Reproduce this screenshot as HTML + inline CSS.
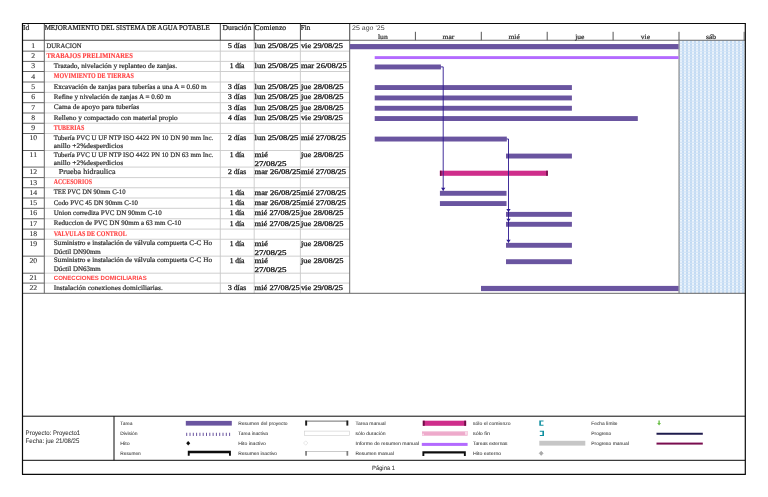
<!DOCTYPE html>
<html lang="es"><head><meta charset="utf-8"><title>Proyecto1</title>
<style>html,body{margin:0;padding:0;background:#fff;overflow:hidden}svg{display:block}text{text-rendering:geometricPrecision}</style>
</head><body>
<svg width="768" height="497" viewBox="0 0 768 497">
<defs><pattern id="wk" width="4" height="2.75" patternUnits="userSpaceOnUse"><rect width="4" height="2.75" fill="#bfd8f2"/><rect x="0" width="2" height="2.75" fill="#d2e4f7"/><ellipse cx="1" cy="0.7" rx="0.8" ry="0.85" fill="#fbfdff"/><ellipse cx="3" cy="2.07" rx="0.6" ry="0.7" fill="#e4effb"/></pattern><filter id="bl" x="0" y="0" width="100%" height="100%" filterUnits="userSpaceOnUse"><feGaussianBlur stdDeviation="0.28"/></filter></defs>
<rect width="768" height="497" fill="#fff"/>
<rect x="679.00" y="40.25" width="65.90" height="253.05" fill="url(#wk)"/>
<line x1="44.30" y1="51.15" x2="349.70" y2="51.15" stroke="#c9c9c9" stroke-width="0.9"/>
<line x1="22.50" y1="51.15" x2="44.30" y2="51.15" stroke="#555" stroke-width="0.9"/>
<line x1="44.30" y1="61.40" x2="349.70" y2="61.40" stroke="#c9c9c9" stroke-width="0.9"/>
<line x1="22.50" y1="61.40" x2="44.30" y2="61.40" stroke="#555" stroke-width="0.9"/>
<line x1="44.30" y1="71.50" x2="349.70" y2="71.50" stroke="#c9c9c9" stroke-width="0.9"/>
<line x1="22.50" y1="71.50" x2="44.30" y2="71.50" stroke="#555" stroke-width="0.9"/>
<line x1="44.30" y1="82.00" x2="349.70" y2="82.00" stroke="#c9c9c9" stroke-width="0.9"/>
<line x1="22.50" y1="82.00" x2="44.30" y2="82.00" stroke="#555" stroke-width="0.9"/>
<line x1="44.30" y1="92.40" x2="349.70" y2="92.40" stroke="#c9c9c9" stroke-width="0.9"/>
<line x1="22.50" y1="92.40" x2="44.30" y2="92.40" stroke="#555" stroke-width="0.9"/>
<line x1="44.30" y1="102.70" x2="349.70" y2="102.70" stroke="#c9c9c9" stroke-width="0.9"/>
<line x1="22.50" y1="102.70" x2="44.30" y2="102.70" stroke="#555" stroke-width="0.9"/>
<line x1="44.30" y1="113.00" x2="349.70" y2="113.00" stroke="#c9c9c9" stroke-width="0.9"/>
<line x1="22.50" y1="113.00" x2="44.30" y2="113.00" stroke="#555" stroke-width="0.9"/>
<line x1="44.30" y1="123.25" x2="349.70" y2="123.25" stroke="#c9c9c9" stroke-width="0.9"/>
<line x1="22.50" y1="123.25" x2="44.30" y2="123.25" stroke="#555" stroke-width="0.9"/>
<line x1="44.30" y1="133.50" x2="349.70" y2="133.50" stroke="#c9c9c9" stroke-width="0.9"/>
<line x1="22.50" y1="133.50" x2="44.30" y2="133.50" stroke="#555" stroke-width="0.9"/>
<line x1="44.30" y1="150.50" x2="349.70" y2="150.50" stroke="#c9c9c9" stroke-width="0.9"/>
<line x1="22.50" y1="150.50" x2="44.30" y2="150.50" stroke="#555" stroke-width="0.9"/>
<line x1="44.30" y1="167.10" x2="349.70" y2="167.10" stroke="#c9c9c9" stroke-width="0.9"/>
<line x1="22.50" y1="167.10" x2="44.30" y2="167.10" stroke="#555" stroke-width="0.9"/>
<line x1="44.30" y1="177.60" x2="349.70" y2="177.60" stroke="#c9c9c9" stroke-width="0.9"/>
<line x1="22.50" y1="177.60" x2="44.30" y2="177.60" stroke="#555" stroke-width="0.9"/>
<line x1="44.30" y1="187.75" x2="349.70" y2="187.75" stroke="#c9c9c9" stroke-width="0.9"/>
<line x1="22.50" y1="187.75" x2="44.30" y2="187.75" stroke="#555" stroke-width="0.9"/>
<line x1="44.30" y1="198.00" x2="349.70" y2="198.00" stroke="#c9c9c9" stroke-width="0.9"/>
<line x1="22.50" y1="198.00" x2="44.30" y2="198.00" stroke="#555" stroke-width="0.9"/>
<line x1="44.30" y1="208.30" x2="349.70" y2="208.30" stroke="#c9c9c9" stroke-width="0.9"/>
<line x1="22.50" y1="208.30" x2="44.30" y2="208.30" stroke="#555" stroke-width="0.9"/>
<line x1="44.30" y1="218.75" x2="349.70" y2="218.75" stroke="#c9c9c9" stroke-width="0.9"/>
<line x1="22.50" y1="218.75" x2="44.30" y2="218.75" stroke="#555" stroke-width="0.9"/>
<line x1="44.30" y1="229.10" x2="349.70" y2="229.10" stroke="#c9c9c9" stroke-width="0.9"/>
<line x1="22.50" y1="229.10" x2="44.30" y2="229.10" stroke="#555" stroke-width="0.9"/>
<line x1="44.30" y1="239.25" x2="349.70" y2="239.25" stroke="#c9c9c9" stroke-width="0.9"/>
<line x1="22.50" y1="239.25" x2="44.30" y2="239.25" stroke="#555" stroke-width="0.9"/>
<line x1="44.30" y1="256.15" x2="349.70" y2="256.15" stroke="#c9c9c9" stroke-width="0.9"/>
<line x1="22.50" y1="256.15" x2="44.30" y2="256.15" stroke="#555" stroke-width="0.9"/>
<line x1="44.30" y1="273.20" x2="349.70" y2="273.20" stroke="#c9c9c9" stroke-width="0.9"/>
<line x1="22.50" y1="273.20" x2="44.30" y2="273.20" stroke="#555" stroke-width="0.9"/>
<line x1="44.30" y1="283.10" x2="349.70" y2="283.10" stroke="#c9c9c9" stroke-width="0.9"/>
<line x1="22.50" y1="283.10" x2="44.30" y2="283.10" stroke="#555" stroke-width="0.9"/>
<line x1="220.30" y1="40.25" x2="220.30" y2="293.30" stroke="#c9c9c9" stroke-width="0.9"/>
<line x1="254.20" y1="40.25" x2="254.20" y2="293.30" stroke="#c9c9c9" stroke-width="0.9"/>
<line x1="300.40" y1="40.25" x2="300.40" y2="293.30" stroke="#c9c9c9" stroke-width="0.9"/>
<line x1="44.30" y1="23.50" x2="44.30" y2="40.25" stroke="#4a4a4a" stroke-width="1"/>
<line x1="220.30" y1="23.50" x2="220.30" y2="40.25" stroke="#4a4a4a" stroke-width="1"/>
<line x1="254.20" y1="23.50" x2="254.20" y2="40.25" stroke="#4a4a4a" stroke-width="1"/>
<line x1="300.40" y1="23.50" x2="300.40" y2="40.25" stroke="#4a4a4a" stroke-width="1"/>
<line x1="44.30" y1="40.25" x2="44.30" y2="293.30" stroke="#666" stroke-width="1"/>
<line x1="349.70" y1="23.50" x2="349.70" y2="40.25" stroke="#555" stroke-width="1.1"/>
<line x1="349.70" y1="40.25" x2="349.70" y2="293.30" stroke="#6e6e6e" stroke-width="1.0"/>
<line x1="22.50" y1="40.25" x2="349.70" y2="40.25" stroke="#4a4a4a" stroke-width="1"/>
<line x1="349.70" y1="40.25" x2="745.30" y2="40.25" stroke="#5a5a5a" stroke-width="0.9"/>
<line x1="744.10" y1="31.80" x2="744.10" y2="40.25" stroke="#555" stroke-width="0.8"/>
<line x1="22.50" y1="293.30" x2="745.30" y2="293.30" stroke="#666" stroke-width="1"/>
<line x1="415.40" y1="31.80" x2="415.40" y2="40.25" stroke="#555" stroke-width="1"/>
<line x1="481.30" y1="31.80" x2="481.30" y2="40.25" stroke="#555" stroke-width="1"/>
<line x1="547.20" y1="31.80" x2="547.20" y2="40.25" stroke="#555" stroke-width="1"/>
<line x1="613.10" y1="31.80" x2="613.10" y2="40.25" stroke="#555" stroke-width="1"/>
<line x1="679.00" y1="31.80" x2="679.00" y2="40.25" stroke="#555" stroke-width="1"/>
<line x1="679.00" y1="40.25" x2="679.00" y2="293.30" stroke="#7c7c7c" stroke-width="1.0"/>
<line x1="21.95" y1="23.50" x2="745.85" y2="23.50" stroke="#0a0a0a" stroke-width="1.2"/>
<line x1="22.50" y1="23.50" x2="22.50" y2="474.30" stroke="#0a0a0a" stroke-width="1.2"/>
<line x1="745.30" y1="23.50" x2="745.30" y2="474.30" stroke="#0a0a0a" stroke-width="1.2"/>
<line x1="21.95" y1="474.30" x2="745.85" y2="474.30" stroke="#0a0a0a" stroke-width="1.2"/>
<line x1="22.50" y1="416.20" x2="745.30" y2="416.20" stroke="#0a0a0a" stroke-width="1.0"/>
<line x1="22.50" y1="460.30" x2="745.30" y2="460.30" stroke="#0a0a0a" stroke-width="1.0"/>
<line x1="114.00" y1="416.20" x2="114.00" y2="460.30" stroke="#0a0a0a" stroke-width="1.0"/>
<g filter="url(#bl)">
<text x="22.90" y="29.90" font-family='"Liberation Serif", serif' font-size="7.5" fill="#222" stroke="#222" stroke-width="0.22" textLength="6.25" lengthAdjust="spacingAndGlyphs">Id</text>
<text x="44.70" y="29.90" font-family='"Liberation Serif", serif' font-size="7.5" fill="#222" stroke="#222" stroke-width="0.22" textLength="165.00" lengthAdjust="spacingAndGlyphs">MEJORAMIENTO DEL SISTEMA DE AGUA POTABLE</text>
<text x="222.50" y="29.90" font-family='"Liberation Serif", serif' font-size="7.5" fill="#222" stroke="#222" stroke-width="0.22" textLength="28.75" lengthAdjust="spacingAndGlyphs">Duración</text>
<text x="254.60" y="29.90" font-family='"Liberation Serif", serif' font-size="7.5" fill="#222" stroke="#222" stroke-width="0.22" textLength="31.60" lengthAdjust="spacingAndGlyphs">Comienzo</text>
<text x="300.70" y="29.90" font-family='"Liberation Serif", serif' font-size="7.5" fill="#222" stroke="#222" stroke-width="0.22" textLength="9.60" lengthAdjust="spacingAndGlyphs">Fin</text>
<text x="352.10" y="30.00" font-family='"Liberation Sans", sans-serif' font-size="6.7" fill="#444" textLength="32.50" lengthAdjust="spacingAndGlyphs">25 ago '25</text>
<text x="377.98" y="38.50" font-family='"Liberation Serif", serif' font-size="6.8" fill="#333" stroke="#333" stroke-width="0.22" textLength="9.73" lengthAdjust="spacingAndGlyphs">lun</text>
<text x="442.58" y="38.50" font-family='"Liberation Serif", serif' font-size="6.8" fill="#333" stroke="#333" stroke-width="0.22" textLength="11.84" lengthAdjust="spacingAndGlyphs">mar</text>
<text x="508.44" y="38.50" font-family='"Liberation Serif", serif' font-size="6.8" fill="#333" stroke="#333" stroke-width="0.22" textLength="11.42" lengthAdjust="spacingAndGlyphs">mié</text>
<text x="575.15" y="38.50" font-family='"Liberation Serif", serif' font-size="6.8" fill="#333" stroke="#333" stroke-width="0.22" textLength="9.30" lengthAdjust="spacingAndGlyphs">jue</text>
<text x="640.80" y="38.50" font-family='"Liberation Serif", serif' font-size="6.8" fill="#333" stroke="#333" stroke-width="0.22" textLength="9.30" lengthAdjust="spacingAndGlyphs">vie</text>
<text x="706.02" y="38.50" font-family='"Liberation Serif", serif' font-size="6.8" fill="#333" stroke="#333" stroke-width="0.22" textLength="10.15" lengthAdjust="spacingAndGlyphs">sáb</text>
<text x="31.37" y="47.85" font-family='"Liberation Serif", serif' font-size="7.3" fill="#333" stroke="#333" stroke-width="0.12" textLength="3.87" lengthAdjust="spacingAndGlyphs">1</text>
<text x="46.50" y="47.95" font-family='"Liberation Serif", serif' font-size="6.9" fill="#333" stroke="#333" stroke-width="0.22" textLength="35.00" lengthAdjust="spacingAndGlyphs">DURACION</text>
<text x="227.95" y="47.85" font-family='"Liberation Serif", serif' font-size="7.3" fill="#222" stroke="#222" stroke-width="0.3" textLength="18.20" lengthAdjust="spacingAndGlyphs">5 días</text>
<text x="254.60" y="47.85" font-family='"Liberation Serif", serif' font-size="7.3" fill="#222" stroke="#222" stroke-width="0.3" textLength="43.80" lengthAdjust="spacingAndGlyphs">lun 25/08/25</text>
<text x="300.90" y="47.85" font-family='"Liberation Serif", serif' font-size="7.3" fill="#222" stroke="#222" stroke-width="0.3" textLength="42.10" lengthAdjust="spacingAndGlyphs">vie 29/08/25</text>
<text x="31.37" y="58.15" font-family='"Liberation Serif", serif' font-size="7.3" fill="#333" stroke="#333" stroke-width="0.12" textLength="3.87" lengthAdjust="spacingAndGlyphs">2</text>
<text x="46.50" y="57.65" font-family='"Liberation Serif", serif' font-size="7.3" fill="#ff4040" stroke="#ff4040" stroke-width="0.15" font-weight="bold" textLength="86.25" lengthAdjust="spacingAndGlyphs">TRABAJOS PRELIMINARES</text>
<text x="31.37" y="68.40" font-family='"Liberation Serif", serif' font-size="7.3" fill="#333" stroke="#333" stroke-width="0.12" textLength="3.87" lengthAdjust="spacingAndGlyphs">3</text>
<text x="53.75" y="67.90" font-family='"Liberation Serif", serif' font-size="6.9" fill="#333" stroke="#333" stroke-width="0.22" textLength="123.25" lengthAdjust="spacingAndGlyphs">Trazado, nivelación y replanteo de zanjas.</text>
<text x="229.65" y="68.40" font-family='"Liberation Serif", serif' font-size="7.3" fill="#222" stroke="#222" stroke-width="0.3" textLength="14.80" lengthAdjust="spacingAndGlyphs">1 día</text>
<text x="254.60" y="68.40" font-family='"Liberation Serif", serif' font-size="7.3" fill="#222" stroke="#222" stroke-width="0.3" textLength="43.80" lengthAdjust="spacingAndGlyphs">lun 25/08/25</text>
<text x="300.90" y="68.40" font-family='"Liberation Serif", serif' font-size="7.3" fill="#222" stroke="#222" stroke-width="0.3" textLength="46.00" lengthAdjust="spacingAndGlyphs">mar 26/08/25</text>
<text x="31.37" y="78.50" font-family='"Liberation Serif", serif' font-size="7.3" fill="#333" stroke="#333" stroke-width="0.12" textLength="3.87" lengthAdjust="spacingAndGlyphs">4</text>
<text x="53.75" y="78.00" font-family='"Liberation Serif", serif' font-size="7.3" fill="#ff4040" stroke="#ff4040" stroke-width="0.15" font-weight="bold" textLength="80.00" lengthAdjust="spacingAndGlyphs">MOVIMIENTO DE TIERRAS</text>
<text x="31.37" y="89.00" font-family='"Liberation Serif", serif' font-size="7.3" fill="#333" stroke="#333" stroke-width="0.12" textLength="3.87" lengthAdjust="spacingAndGlyphs">5</text>
<text x="53.75" y="88.50" font-family='"Liberation Serif", serif' font-size="6.9" fill="#333" stroke="#333" stroke-width="0.22" textLength="153.00" lengthAdjust="spacingAndGlyphs">Excavación de zanjas para tuberías a una A = 0.60 m</text>
<text x="227.95" y="89.00" font-family='"Liberation Serif", serif' font-size="7.3" fill="#222" stroke="#222" stroke-width="0.3" textLength="18.20" lengthAdjust="spacingAndGlyphs">3 días</text>
<text x="254.60" y="89.00" font-family='"Liberation Serif", serif' font-size="7.3" fill="#222" stroke="#222" stroke-width="0.3" textLength="43.80" lengthAdjust="spacingAndGlyphs">lun 25/08/25</text>
<text x="300.90" y="89.00" font-family='"Liberation Serif", serif' font-size="7.3" fill="#222" stroke="#222" stroke-width="0.3" textLength="42.70" lengthAdjust="spacingAndGlyphs">jue 28/08/25</text>
<text x="31.37" y="99.40" font-family='"Liberation Serif", serif' font-size="7.3" fill="#333" stroke="#333" stroke-width="0.12" textLength="3.87" lengthAdjust="spacingAndGlyphs">6</text>
<text x="53.75" y="98.90" font-family='"Liberation Serif", serif' font-size="6.9" fill="#333" stroke="#333" stroke-width="0.22" textLength="117.25" lengthAdjust="spacingAndGlyphs">Refine y nivelación de zanjas A = 0.60 m</text>
<text x="227.95" y="99.40" font-family='"Liberation Serif", serif' font-size="7.3" fill="#222" stroke="#222" stroke-width="0.3" textLength="18.20" lengthAdjust="spacingAndGlyphs">3 días</text>
<text x="254.60" y="99.40" font-family='"Liberation Serif", serif' font-size="7.3" fill="#222" stroke="#222" stroke-width="0.3" textLength="43.80" lengthAdjust="spacingAndGlyphs">lun 25/08/25</text>
<text x="300.90" y="99.40" font-family='"Liberation Serif", serif' font-size="7.3" fill="#222" stroke="#222" stroke-width="0.3" textLength="42.70" lengthAdjust="spacingAndGlyphs">jue 28/08/25</text>
<text x="31.37" y="109.70" font-family='"Liberation Serif", serif' font-size="7.3" fill="#333" stroke="#333" stroke-width="0.12" textLength="3.87" lengthAdjust="spacingAndGlyphs">7</text>
<text x="53.75" y="109.20" font-family='"Liberation Serif", serif' font-size="6.9" fill="#333" stroke="#333" stroke-width="0.22" textLength="85.50" lengthAdjust="spacingAndGlyphs">Cama de apoyo para tuberías</text>
<text x="227.95" y="109.70" font-family='"Liberation Serif", serif' font-size="7.3" fill="#222" stroke="#222" stroke-width="0.3" textLength="18.20" lengthAdjust="spacingAndGlyphs">3 días</text>
<text x="254.60" y="109.70" font-family='"Liberation Serif", serif' font-size="7.3" fill="#222" stroke="#222" stroke-width="0.3" textLength="43.80" lengthAdjust="spacingAndGlyphs">lun 25/08/25</text>
<text x="300.90" y="109.70" font-family='"Liberation Serif", serif' font-size="7.3" fill="#222" stroke="#222" stroke-width="0.3" textLength="42.70" lengthAdjust="spacingAndGlyphs">jue 28/08/25</text>
<text x="31.37" y="120.00" font-family='"Liberation Serif", serif' font-size="7.3" fill="#333" stroke="#333" stroke-width="0.12" textLength="3.87" lengthAdjust="spacingAndGlyphs">8</text>
<text x="53.75" y="119.50" font-family='"Liberation Serif", serif' font-size="6.9" fill="#333" stroke="#333" stroke-width="0.22" textLength="124.00" lengthAdjust="spacingAndGlyphs">Relleno y compactado con material propio</text>
<text x="227.95" y="120.00" font-family='"Liberation Serif", serif' font-size="7.3" fill="#222" stroke="#222" stroke-width="0.3" textLength="18.20" lengthAdjust="spacingAndGlyphs">4 días</text>
<text x="254.60" y="120.00" font-family='"Liberation Serif", serif' font-size="7.3" fill="#222" stroke="#222" stroke-width="0.3" textLength="43.80" lengthAdjust="spacingAndGlyphs">lun 25/08/25</text>
<text x="300.90" y="120.00" font-family='"Liberation Serif", serif' font-size="7.3" fill="#222" stroke="#222" stroke-width="0.3" textLength="42.10" lengthAdjust="spacingAndGlyphs">vie 29/08/25</text>
<text x="31.37" y="130.25" font-family='"Liberation Serif", serif' font-size="7.3" fill="#333" stroke="#333" stroke-width="0.12" textLength="3.87" lengthAdjust="spacingAndGlyphs">9</text>
<text x="53.75" y="129.75" font-family='"Liberation Serif", serif' font-size="7.3" fill="#ff4040" stroke="#ff4040" stroke-width="0.15" font-weight="bold" textLength="30.50" lengthAdjust="spacingAndGlyphs">TUBERIAS</text>
<text x="29.43" y="140.10" font-family='"Liberation Serif", serif' font-size="7.3" fill="#333" stroke="#333" stroke-width="0.12" textLength="7.74" lengthAdjust="spacingAndGlyphs">10</text>
<text x="53.75" y="139.70" font-family='"Liberation Serif", serif' font-size="6.9" fill="#333" stroke="#333" stroke-width="0.22" textLength="159.50" lengthAdjust="spacingAndGlyphs">Tubería PVC U UF NTP ISO 4422 PN 10 DN 90 mm Inc.</text>
<text x="53.75" y="147.85" font-family='"Liberation Serif", serif' font-size="6.9" fill="#333" stroke="#333" stroke-width="0.22" textLength="69.25" lengthAdjust="spacingAndGlyphs">anillo +2%desperdicios</text>
<text x="227.95" y="140.10" font-family='"Liberation Serif", serif' font-size="7.3" fill="#222" stroke="#222" stroke-width="0.3" textLength="18.20" lengthAdjust="spacingAndGlyphs">2 días</text>
<text x="254.60" y="140.10" font-family='"Liberation Serif", serif' font-size="7.3" fill="#222" stroke="#222" stroke-width="0.3" textLength="43.80" lengthAdjust="spacingAndGlyphs">lun 25/08/25</text>
<text x="300.90" y="140.10" font-family='"Liberation Serif", serif' font-size="7.3" fill="#222" stroke="#222" stroke-width="0.3" textLength="45.20" lengthAdjust="spacingAndGlyphs">mié 27/08/25</text>
<text x="29.57" y="157.10" font-family='"Liberation Serif", serif' font-size="7.3" fill="#333" stroke="#333" stroke-width="0.12" textLength="7.45" lengthAdjust="spacingAndGlyphs">11</text>
<text x="53.75" y="156.70" font-family='"Liberation Serif", serif' font-size="6.9" fill="#333" stroke="#333" stroke-width="0.22" textLength="159.50" lengthAdjust="spacingAndGlyphs">Tubería PVC U UF NTP ISO 4422 PN 10 DN 63 mm Inc.</text>
<text x="53.75" y="164.85" font-family='"Liberation Serif", serif' font-size="6.9" fill="#333" stroke="#333" stroke-width="0.22" textLength="69.25" lengthAdjust="spacingAndGlyphs">anillo +2%desperdicios</text>
<text x="229.65" y="157.10" font-family='"Liberation Serif", serif' font-size="7.3" fill="#222" stroke="#222" stroke-width="0.3" textLength="14.80" lengthAdjust="spacingAndGlyphs">1 día</text>
<text x="254.60" y="157.10" font-family='"Liberation Serif", serif' font-size="7.3" fill="#222" stroke="#222" stroke-width="0.3" textLength="13.50" lengthAdjust="spacingAndGlyphs">mié</text>
<text x="254.60" y="165.90" font-family='"Liberation Serif", serif' font-size="7.3" fill="#222" stroke="#222" stroke-width="0.3" textLength="32.00" lengthAdjust="spacingAndGlyphs">27/08/25</text>
<text x="300.90" y="157.10" font-family='"Liberation Serif", serif' font-size="7.3" fill="#222" stroke="#222" stroke-width="0.3" textLength="42.70" lengthAdjust="spacingAndGlyphs">jue 28/08/25</text>
<text x="29.43" y="174.10" font-family='"Liberation Serif", serif' font-size="7.3" fill="#333" stroke="#333" stroke-width="0.12" textLength="7.74" lengthAdjust="spacingAndGlyphs">12</text>
<text x="58.75" y="173.60" font-family='"Liberation Serif", serif' font-size="7.5" fill="#333" stroke="#333" stroke-width="0.22" textLength="56.75" lengthAdjust="spacingAndGlyphs">Prueba hidraulica</text>
<text x="227.95" y="174.10" font-family='"Liberation Serif", serif' font-size="7.3" fill="#222" stroke="#222" stroke-width="0.3" textLength="18.20" lengthAdjust="spacingAndGlyphs">2 días</text>
<text x="254.60" y="174.10" font-family='"Liberation Serif", serif' font-size="7.3" fill="#222" stroke="#222" stroke-width="0.3" textLength="46.00" lengthAdjust="spacingAndGlyphs">mar 26/08/25</text>
<text x="300.90" y="174.10" font-family='"Liberation Serif", serif' font-size="7.3" fill="#222" stroke="#222" stroke-width="0.3" textLength="45.20" lengthAdjust="spacingAndGlyphs">mié 27/08/25</text>
<text x="29.43" y="184.60" font-family='"Liberation Serif", serif' font-size="7.3" fill="#333" stroke="#333" stroke-width="0.12" textLength="7.74" lengthAdjust="spacingAndGlyphs">13</text>
<text x="53.75" y="184.10" font-family='"Liberation Serif", serif' font-size="7.3" fill="#ff4040" stroke="#ff4040" stroke-width="0.15" font-weight="bold" textLength="38.25" lengthAdjust="spacingAndGlyphs">ACCESORIOS</text>
<text x="29.43" y="194.75" font-family='"Liberation Serif", serif' font-size="7.3" fill="#333" stroke="#333" stroke-width="0.12" textLength="7.74" lengthAdjust="spacingAndGlyphs">14</text>
<text x="53.75" y="194.25" font-family='"Liberation Serif", serif' font-size="6.9" fill="#333" stroke="#333" stroke-width="0.22" textLength="71.75" lengthAdjust="spacingAndGlyphs">TEE PVC DN 90mm C-10</text>
<text x="229.65" y="194.75" font-family='"Liberation Serif", serif' font-size="7.3" fill="#222" stroke="#222" stroke-width="0.3" textLength="14.80" lengthAdjust="spacingAndGlyphs">1 día</text>
<text x="254.60" y="194.75" font-family='"Liberation Serif", serif' font-size="7.3" fill="#222" stroke="#222" stroke-width="0.3" textLength="46.00" lengthAdjust="spacingAndGlyphs">mar 26/08/25</text>
<text x="300.90" y="194.75" font-family='"Liberation Serif", serif' font-size="7.3" fill="#222" stroke="#222" stroke-width="0.3" textLength="45.20" lengthAdjust="spacingAndGlyphs">mié 27/08/25</text>
<text x="29.43" y="205.00" font-family='"Liberation Serif", serif' font-size="7.3" fill="#333" stroke="#333" stroke-width="0.12" textLength="7.74" lengthAdjust="spacingAndGlyphs">15</text>
<text x="53.75" y="204.50" font-family='"Liberation Serif", serif' font-size="6.9" fill="#333" stroke="#333" stroke-width="0.22" textLength="84.25" lengthAdjust="spacingAndGlyphs">Codo PVC 45 DN 90mm C-10</text>
<text x="229.65" y="205.00" font-family='"Liberation Serif", serif' font-size="7.3" fill="#222" stroke="#222" stroke-width="0.3" textLength="14.80" lengthAdjust="spacingAndGlyphs">1 día</text>
<text x="254.60" y="205.00" font-family='"Liberation Serif", serif' font-size="7.3" fill="#222" stroke="#222" stroke-width="0.3" textLength="46.00" lengthAdjust="spacingAndGlyphs">mar 26/08/25</text>
<text x="300.90" y="205.00" font-family='"Liberation Serif", serif' font-size="7.3" fill="#222" stroke="#222" stroke-width="0.3" textLength="45.20" lengthAdjust="spacingAndGlyphs">mié 27/08/25</text>
<text x="29.43" y="215.30" font-family='"Liberation Serif", serif' font-size="7.3" fill="#333" stroke="#333" stroke-width="0.12" textLength="7.74" lengthAdjust="spacingAndGlyphs">16</text>
<text x="53.75" y="214.80" font-family='"Liberation Serif", serif' font-size="6.9" fill="#333" stroke="#333" stroke-width="0.22" textLength="108.00" lengthAdjust="spacingAndGlyphs">Union corrediza PVC DN 90mm C-10</text>
<text x="229.65" y="215.30" font-family='"Liberation Serif", serif' font-size="7.3" fill="#222" stroke="#222" stroke-width="0.3" textLength="14.80" lengthAdjust="spacingAndGlyphs">1 día</text>
<text x="254.60" y="215.30" font-family='"Liberation Serif", serif' font-size="7.3" fill="#222" stroke="#222" stroke-width="0.3" textLength="45.20" lengthAdjust="spacingAndGlyphs">mié 27/08/25</text>
<text x="300.90" y="215.30" font-family='"Liberation Serif", serif' font-size="7.3" fill="#222" stroke="#222" stroke-width="0.3" textLength="42.70" lengthAdjust="spacingAndGlyphs">jue 28/08/25</text>
<text x="29.43" y="225.75" font-family='"Liberation Serif", serif' font-size="7.3" fill="#333" stroke="#333" stroke-width="0.12" textLength="7.74" lengthAdjust="spacingAndGlyphs">17</text>
<text x="53.75" y="225.25" font-family='"Liberation Serif", serif' font-size="6.9" fill="#333" stroke="#333" stroke-width="0.22" textLength="127.50" lengthAdjust="spacingAndGlyphs">Reduccion de PVC DN 90mm a 63 mm C-10</text>
<text x="229.65" y="225.75" font-family='"Liberation Serif", serif' font-size="7.3" fill="#222" stroke="#222" stroke-width="0.3" textLength="14.80" lengthAdjust="spacingAndGlyphs">1 día</text>
<text x="254.60" y="225.75" font-family='"Liberation Serif", serif' font-size="7.3" fill="#222" stroke="#222" stroke-width="0.3" textLength="45.20" lengthAdjust="spacingAndGlyphs">mié 27/08/25</text>
<text x="300.90" y="225.75" font-family='"Liberation Serif", serif' font-size="7.3" fill="#222" stroke="#222" stroke-width="0.3" textLength="42.70" lengthAdjust="spacingAndGlyphs">jue 28/08/25</text>
<text x="29.43" y="236.10" font-family='"Liberation Serif", serif' font-size="7.3" fill="#333" stroke="#333" stroke-width="0.12" textLength="7.74" lengthAdjust="spacingAndGlyphs">18</text>
<text x="53.75" y="235.60" font-family='"Liberation Serif", serif' font-size="7.3" fill="#ff4040" stroke="#ff4040" stroke-width="0.15" font-weight="bold" textLength="73.00" lengthAdjust="spacingAndGlyphs">VALVULAS DE CONTROL</text>
<text x="29.43" y="245.85" font-family='"Liberation Serif", serif' font-size="7.3" fill="#333" stroke="#333" stroke-width="0.12" textLength="7.74" lengthAdjust="spacingAndGlyphs">19</text>
<text x="53.75" y="245.45" font-family='"Liberation Serif", serif' font-size="6.9" fill="#333" stroke="#333" stroke-width="0.22" textLength="158.25" lengthAdjust="spacingAndGlyphs">Suministro e instalación de válvula compuerta C-C Ho</text>
<text x="53.75" y="253.60" font-family='"Liberation Serif", serif' font-size="6.9" fill="#333" stroke="#333" stroke-width="0.22" textLength="47.00" lengthAdjust="spacingAndGlyphs">Dúctil DN90mm</text>
<text x="229.65" y="245.85" font-family='"Liberation Serif", serif' font-size="7.3" fill="#222" stroke="#222" stroke-width="0.3" textLength="14.80" lengthAdjust="spacingAndGlyphs">1 día</text>
<text x="254.60" y="245.85" font-family='"Liberation Serif", serif' font-size="7.3" fill="#222" stroke="#222" stroke-width="0.3" textLength="13.50" lengthAdjust="spacingAndGlyphs">mié</text>
<text x="254.60" y="254.65" font-family='"Liberation Serif", serif' font-size="7.3" fill="#222" stroke="#222" stroke-width="0.3" textLength="32.00" lengthAdjust="spacingAndGlyphs">27/08/25</text>
<text x="300.90" y="245.85" font-family='"Liberation Serif", serif' font-size="7.3" fill="#222" stroke="#222" stroke-width="0.3" textLength="42.70" lengthAdjust="spacingAndGlyphs">jue 28/08/25</text>
<text x="29.43" y="262.75" font-family='"Liberation Serif", serif' font-size="7.3" fill="#333" stroke="#333" stroke-width="0.12" textLength="7.74" lengthAdjust="spacingAndGlyphs">20</text>
<text x="53.75" y="262.35" font-family='"Liberation Serif", serif' font-size="6.9" fill="#333" stroke="#333" stroke-width="0.22" textLength="158.25" lengthAdjust="spacingAndGlyphs">Suministro e instalación de válvula compuerta C-C Ho</text>
<text x="53.75" y="270.50" font-family='"Liberation Serif", serif' font-size="6.9" fill="#333" stroke="#333" stroke-width="0.22" textLength="47.00" lengthAdjust="spacingAndGlyphs">Dúctil DN63mm</text>
<text x="229.65" y="262.75" font-family='"Liberation Serif", serif' font-size="7.3" fill="#222" stroke="#222" stroke-width="0.3" textLength="14.80" lengthAdjust="spacingAndGlyphs">1 día</text>
<text x="254.60" y="262.75" font-family='"Liberation Serif", serif' font-size="7.3" fill="#222" stroke="#222" stroke-width="0.3" textLength="13.50" lengthAdjust="spacingAndGlyphs">mié</text>
<text x="254.60" y="271.55" font-family='"Liberation Serif", serif' font-size="7.3" fill="#222" stroke="#222" stroke-width="0.3" textLength="32.00" lengthAdjust="spacingAndGlyphs">27/08/25</text>
<text x="300.90" y="262.75" font-family='"Liberation Serif", serif' font-size="7.3" fill="#222" stroke="#222" stroke-width="0.3" textLength="42.70" lengthAdjust="spacingAndGlyphs">jue 28/08/25</text>
<text x="29.43" y="280.20" font-family='"Liberation Serif", serif' font-size="7.3" fill="#333" stroke="#333" stroke-width="0.12" textLength="7.74" lengthAdjust="spacingAndGlyphs">21</text>
<text x="53.75" y="279.70" font-family='"Liberation Sans", sans-serif' font-size="6.2" fill="#ff4040" font-weight="bold" textLength="93.00" lengthAdjust="spacingAndGlyphs">CONECCIONES DOMICILIARIAS</text>
<text x="29.43" y="290.10" font-family='"Liberation Serif", serif' font-size="7.3" fill="#333" stroke="#333" stroke-width="0.12" textLength="7.74" lengthAdjust="spacingAndGlyphs">22</text>
<text x="53.75" y="289.60" font-family='"Liberation Serif", serif' font-size="6.9" fill="#333" stroke="#333" stroke-width="0.22" textLength="109.00" lengthAdjust="spacingAndGlyphs">Instalación conexiones domiciliarias.</text>
<text x="227.95" y="290.10" font-family='"Liberation Serif", serif' font-size="7.3" fill="#222" stroke="#222" stroke-width="0.3" textLength="18.20" lengthAdjust="spacingAndGlyphs">3 días</text>
<text x="254.60" y="290.10" font-family='"Liberation Serif", serif' font-size="7.3" fill="#222" stroke="#222" stroke-width="0.3" textLength="45.20" lengthAdjust="spacingAndGlyphs">mié 27/08/25</text>
<text x="300.90" y="290.10" font-family='"Liberation Serif", serif' font-size="7.3" fill="#222" stroke="#222" stroke-width="0.3" textLength="42.10" lengthAdjust="spacingAndGlyphs">vie 29/08/25</text>
<rect x="349.90" y="44.05" width="328.70" height="5.2" fill="#6b55a0"/>
<rect x="374.71" y="56.15" width="303.89" height="2.9" fill="#b36bff"/>
<rect x="374.71" y="64.50" width="66.20" height="4.9" fill="#6b55a0"/>
<rect x="374.71" y="85.10" width="197.20" height="4.9" fill="#6b55a0"/>
<rect x="374.71" y="95.50" width="197.20" height="4.9" fill="#6b55a0"/>
<rect x="374.71" y="105.80" width="197.20" height="4.9" fill="#6b55a0"/>
<rect x="374.71" y="116.10" width="263.10" height="4.9" fill="#6b55a0"/>
<rect x="374.71" y="136.60" width="132.10" height="4.9" fill="#6b55a0"/>
<rect x="506.01" y="153.60" width="65.90" height="4.9" fill="#6b55a0"/>
<rect x="439.91" y="170.70" width="107.89" height="5.1" fill="#cf2f8b"/>
<rect x="439.91" y="170.70" width="1.6" height="5.1" fill="#6d0d45"/>
<rect x="546.2" y="170.70" width="1.6" height="5.1" fill="#6d0d45"/>
<rect x="439.91" y="190.85" width="66.60" height="4.9" fill="#6b55a0"/>
<rect x="439.91" y="201.10" width="66.60" height="4.9" fill="#6b55a0"/>
<rect x="506.01" y="211.90" width="65.90" height="4.9" fill="#6b55a0"/>
<rect x="506.01" y="221.85" width="65.90" height="4.9" fill="#6b55a0"/>
<rect x="506.01" y="242.85" width="65.90" height="4.9" fill="#6b55a0"/>
<rect x="506.01" y="259.25" width="65.90" height="4.9" fill="#6b55a0"/>
<rect x="481.00" y="285.90" width="197.60" height="5.2" fill="#6b55a0"/>
<path d="M440.61 66.90 L443.2 66.90 L443.2 190.75" fill="none" stroke="#2d1a90" stroke-width="0.9"/>
<path d="M441.00 187.85 L445.40 187.85 L443.20 190.85 Z" fill="#2d1a90"/>
<path d="M506.51 139.00 L508.5 139.00 L508.5 242.65" fill="none" stroke="#2d1a90" stroke-width="0.9"/>
<path d="M506.30 208.90 L510.70 208.90 L508.50 211.90 Z" fill="#2d1a90"/>
<path d="M506.30 218.85 L510.70 218.85 L508.50 221.85 Z" fill="#2d1a90"/>
<path d="M506.30 239.85 L510.70 239.85 L508.50 242.85 Z" fill="#2d1a90"/>
<text x="25.60" y="434.70" font-family='"Liberation Sans", sans-serif' font-size="6.4" fill="#333" stroke="#333" stroke-width="0.05" textLength="54.60" lengthAdjust="spacingAndGlyphs">Proyecto: Proyecto1</text>
<text x="25.60" y="442.80" font-family='"Liberation Sans", sans-serif' font-size="6.4" fill="#333" stroke="#333" stroke-width="0.05" textLength="53.80" lengthAdjust="spacingAndGlyphs">Fecha: jue 21/08/25</text>
<text x="372.00" y="469.70" font-family='"Liberation Sans", sans-serif' font-size="6.3" fill="#333" stroke="#333" stroke-width="0.05" textLength="23.00" lengthAdjust="spacingAndGlyphs">Página 1</text>
<text x="120.30" y="424.70" font-family='"Liberation Sans", sans-serif' font-size="4.8" fill="#3a3a3a" stroke="#3a3a3a" stroke-width="0.06" textLength="12.25" lengthAdjust="spacingAndGlyphs">Tarea</text>
<text x="120.30" y="434.70" font-family='"Liberation Sans", sans-serif' font-size="4.8" fill="#3a3a3a" stroke="#3a3a3a" stroke-width="0.06" textLength="17.25" lengthAdjust="spacingAndGlyphs">División</text>
<text x="120.30" y="444.70" font-family='"Liberation Sans", sans-serif' font-size="4.8" fill="#3a3a3a" stroke="#3a3a3a" stroke-width="0.06" textLength="9.40" lengthAdjust="spacingAndGlyphs">Hito</text>
<text x="120.30" y="454.70" font-family='"Liberation Sans", sans-serif' font-size="4.8" fill="#3a3a3a" stroke="#3a3a3a" stroke-width="0.06" textLength="20.40" lengthAdjust="spacingAndGlyphs">Resumen</text>
<text x="238.30" y="424.70" font-family='"Liberation Sans", sans-serif' font-size="4.8" fill="#3a3a3a" stroke="#3a3a3a" stroke-width="0.06" textLength="49.25" lengthAdjust="spacingAndGlyphs">Resumen del proyecto</text>
<text x="238.30" y="434.70" font-family='"Liberation Sans", sans-serif' font-size="4.8" fill="#3a3a3a" stroke="#3a3a3a" stroke-width="0.06" textLength="29.75" lengthAdjust="spacingAndGlyphs">Tarea inactiva</text>
<text x="238.30" y="444.70" font-family='"Liberation Sans", sans-serif' font-size="4.8" fill="#3a3a3a" stroke="#3a3a3a" stroke-width="0.06" textLength="27.50" lengthAdjust="spacingAndGlyphs">Hito inactivo</text>
<text x="238.30" y="454.70" font-family='"Liberation Sans", sans-serif' font-size="4.8" fill="#3a3a3a" stroke="#3a3a3a" stroke-width="0.06" textLength="38.75" lengthAdjust="spacingAndGlyphs">Resumen inactivo</text>
<text x="355.60" y="424.70" font-family='"Liberation Sans", sans-serif' font-size="4.8" fill="#3a3a3a" stroke="#3a3a3a" stroke-width="0.06" textLength="30.00" lengthAdjust="spacingAndGlyphs">Tarea manual</text>
<text x="355.60" y="434.70" font-family='"Liberation Sans", sans-serif' font-size="4.8" fill="#3a3a3a" stroke="#3a3a3a" stroke-width="0.06" textLength="30.00" lengthAdjust="spacingAndGlyphs">sólo duración</text>
<text x="355.60" y="444.70" font-family='"Liberation Sans", sans-serif' font-size="4.8" fill="#3a3a3a" stroke="#3a3a3a" stroke-width="0.06" textLength="63.25" lengthAdjust="spacingAndGlyphs">Informe de resumen manual</text>
<text x="355.60" y="454.70" font-family='"Liberation Sans", sans-serif' font-size="4.8" fill="#3a3a3a" stroke="#3a3a3a" stroke-width="0.06" textLength="38.25" lengthAdjust="spacingAndGlyphs">Resumen manual</text>
<text x="473.00" y="424.70" font-family='"Liberation Sans", sans-serif' font-size="4.8" fill="#3a3a3a" stroke="#3a3a3a" stroke-width="0.06" textLength="37.50" lengthAdjust="spacingAndGlyphs">sólo el comienzo</text>
<text x="473.00" y="434.70" font-family='"Liberation Sans", sans-serif' font-size="4.8" fill="#3a3a3a" stroke="#3a3a3a" stroke-width="0.06" textLength="17.00" lengthAdjust="spacingAndGlyphs">sólo fin</text>
<text x="473.00" y="444.70" font-family='"Liberation Sans", sans-serif' font-size="4.8" fill="#3a3a3a" stroke="#3a3a3a" stroke-width="0.06" textLength="34.50" lengthAdjust="spacingAndGlyphs">Tareas externas</text>
<text x="473.00" y="454.70" font-family='"Liberation Sans", sans-serif' font-size="4.8" fill="#3a3a3a" stroke="#3a3a3a" stroke-width="0.06" textLength="28.25" lengthAdjust="spacingAndGlyphs">Hito externo</text>
<text x="591.30" y="424.70" font-family='"Liberation Sans", sans-serif' font-size="4.8" fill="#3a3a3a" stroke="#3a3a3a" stroke-width="0.06" textLength="26.25" lengthAdjust="spacingAndGlyphs">Fecha límite</text>
<text x="591.30" y="434.70" font-family='"Liberation Sans", sans-serif' font-size="4.8" fill="#3a3a3a" stroke="#3a3a3a" stroke-width="0.06" textLength="20.00" lengthAdjust="spacingAndGlyphs">Progreso</text>
<text x="591.30" y="444.70" font-family='"Liberation Sans", sans-serif' font-size="4.8" fill="#3a3a3a" stroke="#3a3a3a" stroke-width="0.06" textLength="37.50" lengthAdjust="spacingAndGlyphs">Progreso manual</text>
<rect x="185.80" y="420.90" width="46.00" height="4.70" fill="#6b55a0"/>
<rect x="186.20" y="432.75" width="1.00" height="3.20" fill="#6b55a0"/>
<rect x="189.50" y="432.75" width="1.00" height="3.20" fill="#6b55a0"/>
<rect x="192.80" y="432.75" width="1.00" height="3.20" fill="#6b55a0"/>
<rect x="196.10" y="432.75" width="1.00" height="3.20" fill="#6b55a0"/>
<rect x="199.40" y="432.75" width="1.00" height="3.20" fill="#6b55a0"/>
<rect x="202.70" y="432.75" width="1.00" height="3.20" fill="#6b55a0"/>
<rect x="206.00" y="432.75" width="1.00" height="3.20" fill="#6b55a0"/>
<rect x="209.30" y="432.75" width="1.00" height="3.20" fill="#6b55a0"/>
<rect x="212.60" y="432.75" width="1.00" height="3.20" fill="#6b55a0"/>
<rect x="215.90" y="432.75" width="1.00" height="3.20" fill="#6b55a0"/>
<rect x="219.20" y="432.75" width="1.00" height="3.20" fill="#6b55a0"/>
<rect x="222.50" y="432.75" width="1.00" height="3.20" fill="#6b55a0"/>
<rect x="225.80" y="432.75" width="1.00" height="3.20" fill="#6b55a0"/>
<rect x="229.10" y="432.75" width="1.00" height="3.20" fill="#6b55a0"/>
<path d="M188.2 441.00 l2 2.2 l-2 2.2 l-2 -2.2 Z" fill="#111"/>
<path d="M187.8 450.80 h43.1 v5.0 h-1.9 v-2.5 h-39.3 v2.5 h-1.9 Z" fill="#111"/>
<rect x="305.30" y="420.60" width="42.90" height="1.00" fill="#707070"/>
<rect x="305.20" y="420.60" width="1.90" height="5.00" fill="#1c1c1c"/>
<rect x="346.40" y="420.60" width="1.90" height="5.00" fill="#1c1c1c"/>
<rect x="304.30" y="431.10" width="45.20" height="4.40" fill="#fff" stroke="#cdcdcd" stroke-width="0.6"/>
<path d="M305.7 440.80 l2.2 2.2 l-2.2 2.2 l-2.2 -2.2 Z" fill="#fff" stroke="#cfcfcf" stroke-width="0.5"/>
<rect x="305.30" y="451.00" width="42.90" height="0.90" fill="#c4c4c4"/>
<rect x="305.20" y="451.00" width="1.70" height="4.70" fill="#7d7d7d"/>
<rect x="346.50" y="451.00" width="1.70" height="4.70" fill="#7d7d7d"/>
<rect x="422.80" y="420.70" width="43.30" height="5.10" fill="#cf2f8b"/>
<rect x="422.80" y="420.70" width="1.90" height="5.10" fill="#6d0d45"/>
<rect x="464.20" y="420.70" width="1.90" height="5.10" fill="#6d0d45"/>
<rect x="422.00" y="431.10" width="45.60" height="4.60" fill="#eeaacb"/>
<rect x="422.00" y="431.10" width="45.60" height="1.00" fill="#f5cfe2"/>
<rect x="465.20" y="431.80" width="1.60" height="3.00" fill="#fbe9f2"/>
<rect x="422.40" y="433.60" width="1.40" height="1.60" fill="#fbe9f2"/>
<rect x="421.80" y="442.90" width="45.80" height="3.00" fill="#b36bff"/>
<path d="M422.4 451.20 h43.4 v4.7 h-1.9 v-2.4 h-39.6 v2.4 h-1.9 Z" fill="#111"/>
<path d="M539.3 420.60 h4.2 v1.0 h-2.6 v3.1 h2.6 v1.0 h-4.2 Z" fill="#0f8fa0"/>
<path d="M544.0 430.80 h-4.2 v1.0 h2.6 v3.1 h-2.6 v1.0 h4.2 Z" fill="#0f8fa0"/>
<rect x="539.30" y="440.80" width="46.00" height="4.80" fill="#c6c6c6"/>
<path d="M541.2 451.20 l2.0 2.1 l-2.0 2.1 l-2.0 -2.1 Z" fill="#aaa" stroke="#8a8a8a" stroke-width="0.4"/>
<path d="M658.4 420.60 h1.4 v2.4 h1.2 l-1.9 2.6 l-1.9 -2.6 h1.2 Z" fill="#6cc04a"/>
<rect x="656.50" y="432.75" width="46.30" height="2.00" fill="#1f1a4d"/>
<rect x="656.50" y="442.60" width="46.30" height="2.00" fill="#7a1050"/>
</g>
</svg>
</body></html>
